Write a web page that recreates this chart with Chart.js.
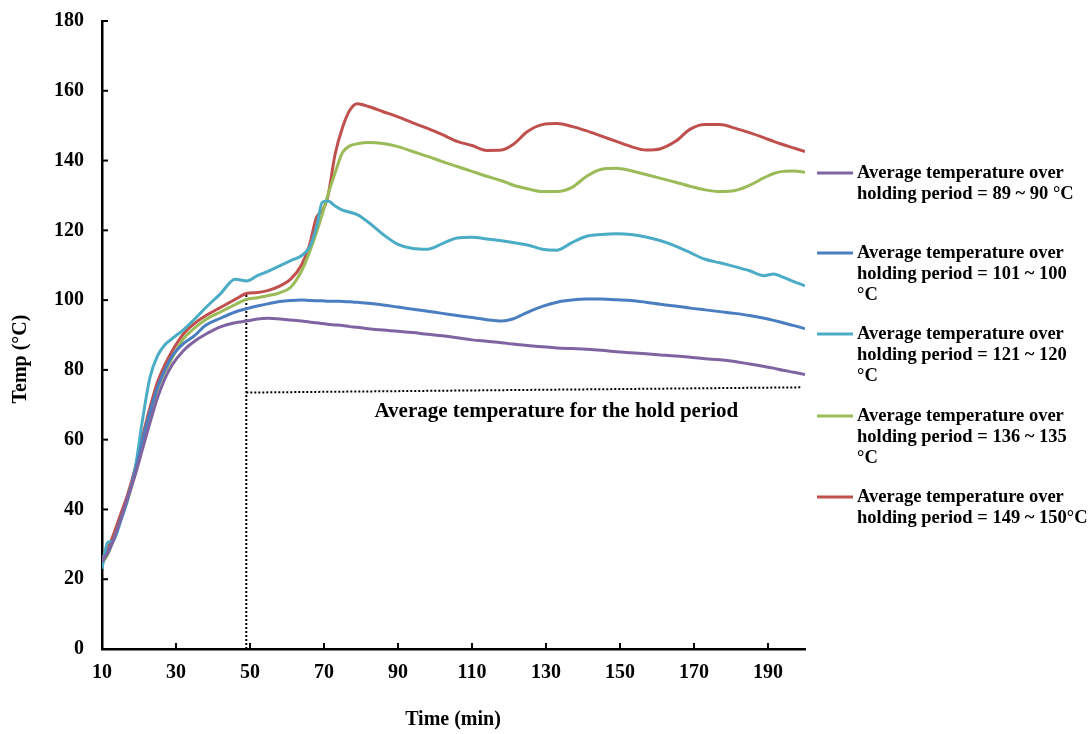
<!DOCTYPE html>
<html>
<head>
<meta charset="utf-8">
<script src="https://cdn.jsdelivr.net/npm/chart.js@4.4.0/dist/chart.umd.min.js"></script>
<style>
  html, body { margin: 0; padding: 0; background: #fff; }
  canvas { display: block; }
</style>
</head>
<body>
<canvas id="tempChart" width="1090" height="734"></canvas>
<script>
// sampling times (min)
const times = [10, 11.5, 13, 15, 17, 19, 21, 23, 25, 27, 29, 32, 35, 38, 42, 46, 49, 52, 55, 58,
  61, 64, 66, 68, 69.5, 71, 73, 75, 77, 79, 82, 86, 90, 94, 98, 102, 106, 110, 114, 118,
  121, 125, 129, 133, 137, 141, 145, 149, 153, 157, 161, 165, 169, 173, 177, 181, 185, 189, 191.5, 194,
  197, 200];

// temperatures (°C)
const temp90 = [25, 27.5, 31, 37, 43.5, 50, 57.5, 65, 72, 77.5, 81.5, 85.5, 88.2, 90.2, 92.3, 93.5, 94, 94.6, 94.8, 94.6,
  94.3, 94, 93.7, 93.5, 93.3, 93.1, 92.9, 92.7, 92.4, 92.2, 91.8, 91.4, 91.1, 90.7, 90.2, 89.8, 89.2, 88.6, 88.2, 87.8,
  87.4, 87, 86.6, 86.3, 86.1, 85.9, 85.6, 85.2, 84.9, 84.6, 84.3, 84, 83.6, 83.2, 82.9, 82.4, 81.7, 81, 80.5, 79.9,
  79.3, 78.7];
const temp100 = [25, 27.5, 31, 37, 43.5, 51, 60, 68, 75, 80, 84, 87.5, 89.8, 92.8, 94.8, 96.6, 97.5, 98.3, 99, 99.6,
  99.9, 100, 99.9, 99.8, 99.8, 99.7, 99.7, 99.6, 99.5, 99.4, 99.1, 98.6, 98, 97.4, 96.8, 96.2, 95.6, 95, 94.4, 94,
  94.6, 96.5, 98.2, 99.4, 100, 100.3, 100.3, 100.1, 99.9, 99.4, 98.8, 98.3, 97.7, 97.2, 96.7, 96.2, 95.6, 94.8, 94.2, 93.5,
  92.7, 91.8];
const temp120 = [23, 30.5, 31, 36.5, 43, 52, 66, 78, 84, 87.2, 89, 91.5, 94.5, 97.8, 101.8, 106, 105.5, 107, 108.3, 109.8,
  111.3, 112.8, 115, 121, 128, 128.4, 127, 125.8, 125.2, 124.5, 122.3, 118.8, 116, 114.8, 114.6, 116.2, 117.8, 118, 117.5, 117,
  116.5, 115.8, 114.6, 114.3, 116.5, 118.3, 118.8, 119, 118.8, 118.1, 117, 115.5, 113.6, 111.7, 110.7, 109.6, 108.4, 107, 107.5, 106.6,
  105.3, 104.1];
const temp135 = [24.5, 27, 31, 37, 43, 50.5, 59.5, 67.5, 74.5, 79.5, 83.5, 88.9, 92, 94.4, 96.6, 98.7, 100.2, 100.7, 101.3, 102.1,
  103.7, 108.5, 113.5, 119.5, 124.5, 130, 136.5, 142.3, 144.2, 144.8, 145.2, 144.9, 144, 142.6, 141.2, 139.7, 138.3, 136.9, 135.5, 134.2,
  133, 131.9, 131.1, 131.1, 132.3, 135.5, 137.5, 137.8, 137.1, 136, 134.9, 133.8, 132.6, 131.6, 131.1, 131.4, 132.9, 135.1, 136.3, 136.9,
  137, 136.6];
const temp150 = [26, 28.5, 32.5, 38.5, 44.5, 52, 61, 69.3, 76.5, 81.5, 85.5, 90.3, 93.3, 95.5, 97.9, 100.2, 101.9, 102.2, 102.8, 104,
  106, 110.2, 115.5, 123.8, 125.5, 129.5, 141.8, 149.5, 154.5, 156.3, 155.5, 154, 152.5, 150.8, 149.2, 147.4, 145.5, 144.3, 142.9, 143,
  144.5, 148.3, 150.3, 150.6, 149.8, 148.5, 147, 145.5, 144, 143, 143.4, 145.5, 149, 150.3, 150.3, 149.3, 148, 146.5, 145.5, 144.6,
  143.6, 142.6];

// dotted guide lines
const holdStartX = [49, 49];
const holdStartY = [0, 102];
const holdAvgX = [49, 199];
const holdAvgY = [73.5, 75];

const xTicks = [10, 30, 50, 70, 90, 110, 130, 150, 170, 190];
const yTicks = [0, 20, 40, 60, 80, 100, 120, 140, 160, 180];

const legendLabels = [
  ["Average temperature over", "holding period = 89 ~ 90 °C"],
  ["Average temperature over", "holding period = 101 ~ 100", "°C"],
  ["Average temperature over", "holding period = 121 ~ 120", "°C"],
  ["Average temperature over", "holding period = 136 ~ 135", "°C"],
  ["Average temperature over", "holding period = 149 ~ 150°C"]
];
const seriesColors = ["#8064A2", "#4A7EC0", "#4BACC6", "#9BBB59", "#C0504D"];
const annotation = "Average temperature for the hold period";

const serif = "'Liberation Serif', 'Times New Roman', serif";

function pairs(xs, ys) {
  return xs.map((x, i) => ({ x: x, y: ys[i] }));
}

const series = [temp90, temp100, temp120, temp135, temp150].map((vals, i) => ({
  label: legendLabels[i].join(" "),
  data: pairs(times, vals),
  borderColor: seriesColors[i],
  backgroundColor: seriesColors[i],
  borderWidth: 3,
  pointRadius: 0,
  cubicInterpolationMode: "monotone",
  fill: false
}));

const guides = [[holdStartX, holdStartY], [holdAvgX, holdAvgY]].map(g => ({
  label: "guide",
  data: pairs(g[0], g[1]),
  borderColor: "#000",
  borderWidth: 2,
  borderDash: [2, 2],
  pointRadius: 0,
  tension: 0,
  fill: false
}));

// inward ticks, axis titles, annotation and legend
const extras = {
  id: "extras",
  afterDraw(chart) {
    const c = chart.ctx;
    const xs = chart.scales.x, ys = chart.scales.y;
    const area = chart.chartArea;
    c.save();
    c.strokeStyle = "#000";
    c.lineWidth = 2;
    xTicks.slice(1).forEach(v => {
      const px = xs.getPixelForValue(v);
      c.beginPath(); c.moveTo(px, area.bottom); c.lineTo(px, area.bottom - 6); c.stroke();
    });
    yTicks.slice(1).forEach(v => {
      const py = ys.getPixelForValue(v);
      c.beginPath(); c.moveTo(area.left, py); c.lineTo(area.left + 6, py); c.stroke();
    });

    c.fillStyle = "#000";
    c.font = "bold 20px " + serif;
    c.textAlign = "center";
    c.textBaseline = "middle";
    c.fillText("Time (min)", 453, 720);
    c.save();
    c.translate(21, 359);
    c.rotate(-Math.PI / 2);
    c.fillText("Temp (°C)", 0, 0);
    c.restore();

    c.font = "bold 21px " + serif;
    c.fillText(annotation, xs.getPixelForValue(132.8), ys.getPixelForValue(68));

    // legend
    const tops = [173, 253, 334, 416, 497];
    c.textAlign = "left";
    c.font = "bold 18.5px " + serif;
    legendLabels.forEach((lines, i) => {
      c.strokeStyle = seriesColors[i];
      c.lineWidth = 3;
      c.beginPath(); c.moveTo(817, tops[i]); c.lineTo(853, tops[i]); c.stroke();
      lines.forEach((t, j) => c.fillText(t, 857, tops[i] + j * 21));
    });
    c.restore();
  }
};

new Chart(document.getElementById("tempChart"), {
  type: "line",
  data: { datasets: series.concat(guides) },
  options: {
    responsive: false,
    animation: false,
    devicePixelRatio: 1,
    layout: { padding: { left: 0, right: 285, top: 21, bottom: 0 } },
    plugins: { legend: { display: false }, tooltip: { enabled: false } },
    scales: {
      x: {
        type: "linear",
        min: 10,
        max: 200,
        afterBuildTicks: s => { s.ticks = xTicks.map(v => ({ value: v })); },
        afterFit: s => { s.height = 85; s.paddingLeft = 0; s.paddingRight = 0; },
        grid: { display: true, drawOnChartArea: false, drawTicks: false },
        border: { display: true, color: "#000", width: 2.5 },
        ticks: { color: "#000", padding: 12, maxRotation: 0, font: { family: serif, size: 20, weight: "bold" } }
      },
      y: {
        min: 0,
        max: 180,
        afterBuildTicks: s => { s.ticks = yTicks.map(v => ({ value: v })); },
        afterFit: s => { s.width = 102; s.paddingTop = 0; s.paddingBottom = 0; },
        grid: { display: true, drawOnChartArea: false, drawTicks: false },
        border: { display: true, color: "#000", width: 2.5 },
        ticks: { color: "#000", padding: 18, font: { family: serif, size: 20, weight: "bold" } }
      }
    }
  },
  plugins: [extras]
});
</script>
</body>
</html>
